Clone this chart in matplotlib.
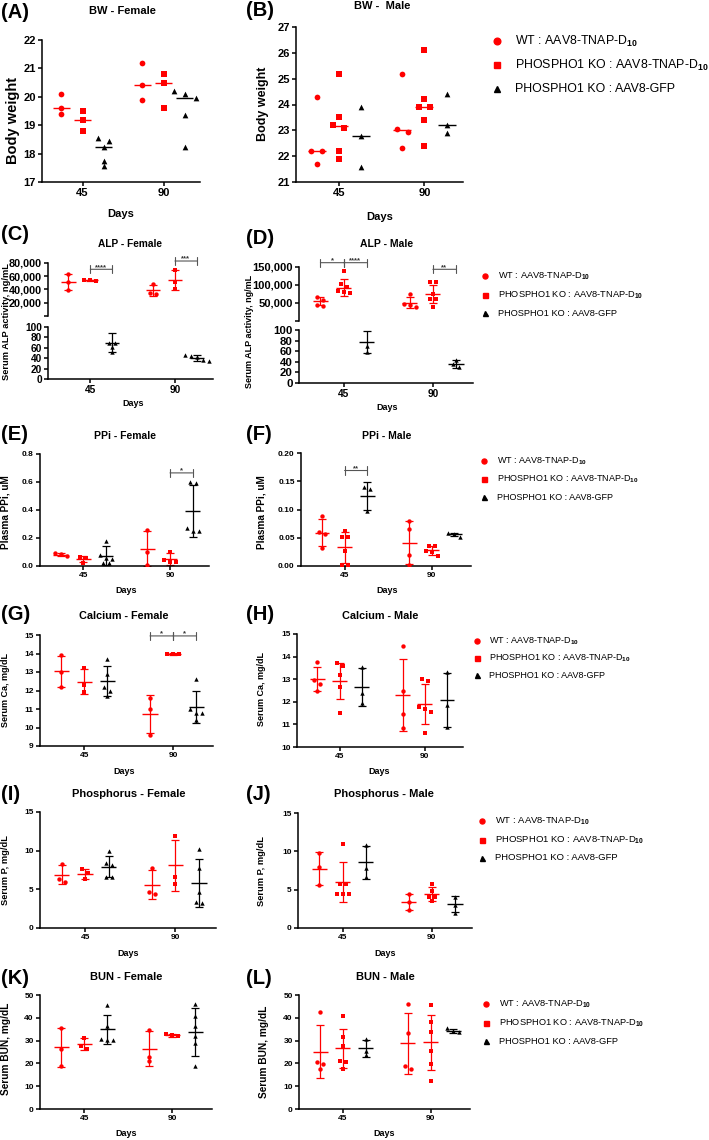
import numpy as np
import matplotlib
matplotlib.use('Agg')
import matplotlib.pyplot as plt
from matplotlib.lines import Line2D
from matplotlib.ticker import FuncFormatter

plt.rcParams['font.family'] = ['Liberation Sans', 'DejaVu Sans']
plt.rcParams['font.weight'] = 'bold'
plt.rcParams['axes.labelweight'] = 'bold'
plt.rcParams['mathtext.fontset'] = 'custom'
plt.rcParams['mathtext.rm'] = 'Liberation Sans'
plt.rcParams['mathtext.it'] = 'Liberation Sans:italic'
plt.rcParams['mathtext.bf'] = 'Liberation Sans:bold'

### DATA ###
days = [45, 90]
group_names = ['WT : AAV8-TNAP-D$_{10}$',
               'PHOSPHO1 KO : AAV8-TNAP-D$_{10}$',
               'PHOSPHO1 KO : AAV8-GFP']
group_markers = ['o', 's', '^']
group_colors = ['#ff0000', '#ff0000', 'black']

# every list: WT45, KO45, GFP45, WT90, KO90, GFP90
bw_f = [[20.1, 19.6, 19.4], [19.5, 19.2, 18.8], [18.55, 18.45, 18.25, 17.75, 17.55],
        [21.2, 20.4, 19.9], [20.8, 20.5, 19.6], [20.2, 20.1, 19.95, 19.35, 18.25]]
bw_f_med = [19.6, 19.2, 18.25, 20.4, 20.5, 19.95]

bw_m = [[24.3, 22.2, 22.2, 21.7], [25.2, 23.5, 23.2, 23.1, 22.2, 21.9], [23.9, 22.8, 21.6],
        [25.2, 23.05, 22.95, 22.3], [26.1, 24.2, 23.9, 23.9, 23.4, 22.4], [24.4, 23.2, 22.9]]
bw_m_med = [22.2, 23.15, 22.8, 23.0, 23.9, 23.2]

alp_f = [[63000, 51000, 39000], [55000, 54000, 53000], [70, 70, 61, 51],
         [48000, 34000, 33000], [70000, 52000, 40000], [47, 44, 42, 36, 35]]
alp_f_mean = [51000, 54000, 70, 38500, 54000, 41]
alp_f_sd = [12000, 1000, 19, 8500, 15000, 5.5]
alp_f_sig = [(1, 2, 70500, '****'), (4, 5, 83000, '***')]

alp_m = [[68000, 58000, 44000, 43000], [140000, 103000, 95000, 83000, 81000, 78000], [106, 69, 58],
         [75000, 48000, 45000, 38000], [107000, 107000, 76000, 62000, 62000, 40000], [43, 35, 30]]
alp_m_mean = [55000, 93000, 78, 51000, 75000, 36]
alp_m_sd = [11000, 24000, 21, 15000, 25000, 7]
alp_m_sig = [(0, 1, 162000, '*'), (1, 2, 162000, '****'), (4, 5, 143600, '**')]

ppi_f = [[0.09, 0.085, 0.07], [0.065, 0.06, 0.025], [0.18, 0.08, 0.06, 0.05, 0.02, 0.02],
         [0.26, 0.10, 0.01], [0.10, 0.04, 0.03, 0.03], [0.60, 0.59, 0.27, 0.25, 0.25]]
ppi_f_mean = [0.08, 0.05, 0.075, 0.125, 0.05, 0.395]
ppi_f_sd = [0.01, 0.022, 0.065, 0.127, 0.04, 0.185]
ppi_f_sig = [(4, 5, 0.665, '*')]

ppi_m = [[0.088, 0.061, 0.056, 0.031], [0.062, 0.052, 0.052, 0.026, 0.002, 0.002], [0.14, 0.136, 0.097],
         [0.08, 0.066, 0.019, 0.001], [0.036, 0.035, 0.026, 0.025, 0.018], [0.059, 0.056, 0.052]]
ppi_m_mean = [0.059, 0.033, 0.124, 0.0415, 0.028, 0.056]
ppi_m_sd = [0.0235, 0.027, 0.025, 0.038, 0.008, 0.003]
ppi_m_sig = [(1, 2, 0.169, '**')]

ca_f = [[13.9, 13.0, 12.2], [13.2, 12.3, 11.9], [13.7, 12.9, 12.2, 12.0, 11.7],
        [11.6, 11.0, 9.6], [14.0, 13.95, 13.95], [12.6, 11.0, 10.8, 10.8, 10.4]]
ca_f_mean = [13.03, 12.47, 12.5, 10.73, 13.97, 11.12]
ca_f_sd = [0.85, 0.67, 0.8, 1.03, 0.06, 0.85]
ca_f_sig = [(3, 4, 14.95, '*'), (4, 5, 14.95, '*')]

ca_m = [[13.75, 12.97, 12.8, 12.5], [13.7, 13.6, 13.2, 12.65, 11.5], [13.55, 12.37, 11.95],
        [14.45, 12.5, 11.45, 10.82], [13.0, 12.9, 11.75, 11.66, 11.55, 10.6], [13.3, 11.85, 10.9]]
ca_m_mean = [13.0, 12.93, 12.65, 12.3, 11.91, 12.08]
ca_m_sd = [0.52, 0.8, 0.83, 1.6, 0.88, 1.2]

p_f = [[8.3, 6.4, 6.0], [7.6, 7.1, 6.3], [9.9, 8.4, 8.2, 6.6, 6.6],
       [7.8, 4.6, 4.4], [11.9, 6.6, 5.7], [10.2, 7.7, 4.6, 3.3, 3.2]]
p_f_mean = [6.9, 7.0, 7.95, 5.6, 8.1, 5.85]
p_f_sd = [1.2, 0.65, 1.35, 1.9, 3.3, 3.1]

p_m = [[9.8, 7.9, 5.6], [11.0, 5.8, 5.8, 4.5, 4.4, 4.4], [10.8, 7.8, 6.6],
       [4.4, 3.4, 2.3], [5.7, 4.8, 4.1, 4.1, 3.5], [4.1, 3.0, 2.0]]
p_m_mean = [7.75, 6.0, 8.6, 3.35, 4.4, 3.1]
p_m_sd = [2.1, 2.55, 2.15, 1.05, 0.9, 1.05]

bun_f = [[35.5, 26.5, 18.8], [31.3, 27.8, 26.2], [45.5, 36.5, 30.5, 30.3, 30.3],
         [34.8, 23.0, 21.0], [33.0, 32.3, 31.8], [46.0, 41.0, 36.5, 32.0, 29.0, 18.8]]
bun_f_mean = [27.0, 28.4, 35.0, 26.5, 32.3, 33.7]
bun_f_sd = [8.4, 2.6, 6.4, 7.5, 0.6, 10.5]

bun_m = [[42.7, 20.5, 19.8, 17.6], [40.9, 31.4, 27.8, 21.2, 20.5, 17.6], [30.7, 25.5, 23.5],
         [46.0, 33.2, 19.0, 17.6], [45.7, 38.3, 33.6, 25.5, 19.7, 12.3], [35.5, 34.0, 33.8]]
bun_m_mean = [25.2, 26.6, 26.6, 28.9, 29.2, 34.4]
bun_m_sd = [11.8, 8.7, 3.7, 13.4, 12.2, 0.9]

### FIGURE ###
W, H = 709, 1140
fig = plt.figure(figsize=(W / 100, H / 100), dpi=100)
gap = 0.26


def px_axes(l, t, r, b):
    return fig.add_axes([l / W, 1 - b / H, (r - l) / W, (b - t) / H])


def ftext(x, y, s, **kw):
    return fig.text(x / W, 1 - y / H, s, **kw)


def xpos(i):
    return i // 3 + 1 + (i % 3 - 1) * gap


def spread(ax, vals, step_px, thr_px):
    # points closer than thr_px are put side by side, like prism does
    pos = ax.get_position()
    y0, y1 = ax.get_ylim()
    x0, x1 = ax.get_xlim()
    py = pos.height * H / (y1 - y0)
    pxx = pos.width * W / (x1 - x0)
    vals = np.asarray(vals, float)
    order = np.argsort(-vals, kind='stable')
    off = np.zeros(len(vals))
    clusters = [[order[0]]]
    for a, b in zip(order[:-1], order[1:]):
        if (vals[a] - vals[b]) * py < thr_px:
            clusters[-1].append(b)
        else:
            clusters.append([b])
    for c in clusters:
        for k, i in enumerate(c):
            off[i] = (k - (len(c) - 1) / 2) * step_px / pxx
    return off


def style(ax, ylim, yticks, fs, fmt=None, xaxis=True, xfs=None):
    ax.set_xlim(0.5, 2.45)
    ax.set_ylim(ylim)
    ax.set_yticks(yticks)
    if fmt:
        ax.yaxis.set_major_formatter(FuncFormatter(fmt))
    for s in ['top', 'right']:
        ax.spines[s].set_visible(False)
    for s in ['left', 'bottom']:
        ax.spines[s].set_linewidth(1.1)
    ax.tick_params(width=1.1, length=3, labelsize=fs, pad=1.5)
    if xaxis:
        ax.set_xticks([1, 2], [str(d) for d in days])
        ax.tick_params(axis='x', labelsize=xfs or fs)
    else:
        ax.spines['bottom'].set_visible(False)
        ax.set_xticks([])
    ax.patch.set_alpha(0)


def draw(ax, pts, mid, sd, which, s=10, step=6, thr=4, half=0.085, cap=2.6):
    for i in which:
        g = i % 3
        xc = xpos(i)
        c = group_colors[g]
        off = spread(ax, pts[i], step, thr)
        ax.hlines(mid[i], xc - half, xc + half, color=c, lw=1.0, zorder=2)
        if sd is not None:
            ax.errorbar(xc, mid[i], yerr=sd[i], fmt='none', ecolor=c,
                        elinewidth=0.9, capsize=cap, capthick=0.9, zorder=2)
        ax.scatter(xc + off, pts[i], s=s, marker=group_markers[g], color=c,
                   linewidths=0, zorder=3)


def bracket(ax, i, j, y, stars):
    x1, x2 = xpos(i), xpos(j)
    ax.annotate('', xy=(x1, y), xytext=(x2, y), annotation_clip=False,
                arrowprops=dict(arrowstyle='|-|,widthA=0.3,widthB=0.3', color='#555555',
                                lw=0.8, shrinkA=0, shrinkB=0))
    ax.annotate(stars, xy=((x1 + x2) / 2, y), xytext=(0, 0.3), textcoords='offset points',
                ha='center', va='baseline', fontsize=5.5, color='#333333',
                annotation_clip=False)


def legend(xm, xt, y0, dy, fs, ms):
    for g in range(3):
        y = y0 + g * dy
        fig.add_artist(Line2D([xm / W], [1 - y / H], transform=fig.transFigure,
                              marker=group_markers[g], color=group_colors[g], ms=ms, ls='none'))
        ftext(xt, y, group_names[g], fontsize=fs, fontweight='normal', va='center')


def labels(tag, tx, ty, title, ttx, tty, ylab, yx, yy, yfs, dx, dy, dfs, tfs=8):
    ftext(tx, ty, tag, fontsize=14.5, ha='left', va='center')
    ftext(ttx, tty, title, fontsize=tfs, ha='center', va='center')
    ftext(yx, yy, ylab, fontsize=yfs, ha='center', va='center', rotation=90)
    ftext(dx, dy, 'Days', fontsize=dfs, ha='center', va='center')


thousands = lambda v, p: f'{int(v):,}' if v else ''

# (A) BW female
ax = px_axes(42, 40, 200, 182)
style(ax, (17, 22), range(17, 23), 8)
draw(ax, bw_f, bw_f_med, None, range(6), s=17, step=11, thr=5, half=0.105)
labels('(A)', 1, 12, 'BW - Female', 122, 11, 'Body weight', 13, 120, 10.5, 121, 214, 8)

# (B) BW male
ax = px_axes(296, 27, 463, 182)
style(ax, (21, 27), range(21, 28), 8)
draw(ax, bw_m, bw_m_med, None, range(6), s=17, step=11, thr=5, half=0.105)
labels('(B)', 246, 10, 'BW -  Male', 382, 6, 'Body weight', 263, 104, 9, 380, 217, 8)
legend(497, 515, 41, 24, 8.9, 4.8)

# (C) ALP female, broken axis
up = px_axes(48, 263, 213, 316)
style(up, (0, 80000), range(0, 80001, 20000), 7.8, fmt=thousands, xaxis=False)
lo = px_axes(48, 327, 213, 379)
style(lo, (0, 100), range(0, 101, 20), 7.3)
draw(up, alp_f, alp_f_mean, alp_f_sd, [0, 1, 3, 4])
draw(lo, alp_f, alp_f_mean, alp_f_sd, [2, 5])
for i, j, y, st in alp_f_sig:
    bracket(up, i, j, y, st)
labels('(C)', 1, 235, 'ALP - Female', 130, 244, 'Serum ALP activity, ng/mL', 7, 322, 6.7, 133, 404, 6.5,
       tfs=7.3)

# (D) ALP male, broken axis
up = px_axes(299, 267, 473, 321)
style(up, (0, 150000), range(0, 150001, 50000), 8, fmt=thousands, xaxis=False)
lo = px_axes(299, 330, 473, 383)
style(lo, (0, 100), range(0, 101, 20), 8.2, xfs=7.3)
draw(up, alp_m, alp_m_mean, alp_m_sd, [0, 1, 3, 4])
draw(lo, alp_m, alp_m_mean, alp_m_sd, [2, 5])
for i, j, y, st in alp_m_sig:
    bracket(up, i, j, y, st)
labels('(D)', 246, 239, 'ALP - Male', 387, 244, 'Serum ALP activity, ng/mL', 249, 331, 6.5, 387, 408, 6.5,
       tfs=7.5)
legend(485, 498, 276, 18.5, 6.7, 3.6)

# (E) PPi female
ax = px_axes(40, 454, 209, 566)
style(ax, (0, 0.8), np.arange(0, 0.81, 0.2), 6, fmt=lambda v, p: f'{v:.1f}')
draw(ax, ppi_f, ppi_f_mean, ppi_f_sd, range(6))
for i, j, y, st in ppi_f_sig:
    bracket(ax, i, j, y, st)
labels('(E)', 1, 435, 'PPi - Female', 125, 436, 'Plasma PPi, uM', 6, 512, 7.2, 126, 590, 6.5, tfs=7.5)

# (F) PPi male
ax = px_axes(301, 453, 471, 566)
style(ax, (0, 0.2), np.arange(0, 0.201, 0.05), 6, fmt=lambda v, p: f'{v:.2f}')
draw(ax, ppi_m, ppi_m_mean, ppi_m_sd, range(6))
for i, j, y, st in ppi_m_sig:
    bracket(ax, i, j, y, st)
labels('(F)', 246, 435, 'PPi - Male', 387, 436, 'Plasma PPi, uM', 261, 512, 7.2, 387, 590, 6.5, tfs=7.5)
legend(484, 497, 461, 18, 6.5, 3.6)

# (G) Calcium female
ax = px_axes(40, 635, 213, 746)
style(ax, (9, 15), range(9, 16), 6)
draw(ax, ca_f, ca_f_mean, ca_f_sd, range(6))
for i, j, y, st in ca_f_sig:
    bracket(ax, i, j, y, st)
labels('(G)', 1, 614, 'Calcium - Female', 124, 616, 'Serum Ca, mg/dL', 6, 690, 6.5, 124, 771, 6.5, tfs=7.8)

# (H) Calcium male
ax = px_axes(297, 634, 463, 747)
style(ax, (10, 15), range(10, 16), 6)
draw(ax, ca_m, ca_m_mean, ca_m_sd, range(6))
labels('(H)', 246, 614, 'Calcium - Male', 380, 616, 'Serum Ca, mg/dL', 262, 689, 6.5, 379, 771, 6.5, tfs=7.8)
legend(477, 489, 641, 17, 6.5, 3.6)

# (I) Phosphorus female
ax = px_axes(40, 812, 216, 928)
style(ax, (0, 15), range(0, 16, 5), 6)
draw(ax, p_f, p_f_mean, p_f_sd, range(6))
labels('(I)', 1, 794, 'Phosphorus - Female', 129, 794, 'Serum P, mg/dL', 6, 870, 6.7, 128, 954, 6.5)

# (J) Phosphorus male
ax = px_axes(298, 813, 472, 928)
style(ax, (0, 15), range(0, 16, 5), 6)
draw(ax, p_m, p_m_mean, p_m_sd, range(6))
labels('(J)', 246, 794, 'Phosphorus - Male', 384, 794, 'Serum P, mg/dL', 262, 871, 6.7, 385, 954, 6.5)
legend(482, 495, 821, 18.5, 6.8, 3.6)

# (K) BUN female
ax = px_axes(40, 995, 212, 1109)
style(ax, (0, 50), range(0, 51, 10), 6)
draw(ax, bun_f, bun_f_mean, bun_f_sd, range(6))
labels('(K)', 1, 978, 'BUN - Female', 126, 977, 'Serum BUN, mg/dL', 6, 1049, 7.3, 126, 1133, 6.5)

# (L) BUN male
ax = px_axes(299, 995, 470, 1109)
style(ax, (0, 50), range(0, 51, 10), 6)
draw(ax, bun_m, bun_m_mean, bun_m_sd, range(6))
labels('(L)', 246, 978, 'BUN - Male', 385, 977, 'Serum BUN, mg/dL', 264, 1052, 7.3, 384, 1133, 6.5)
legend(486, 499, 1004, 18.5, 6.7, 3.6)

fig.savefig('out.png', dpi=100)
